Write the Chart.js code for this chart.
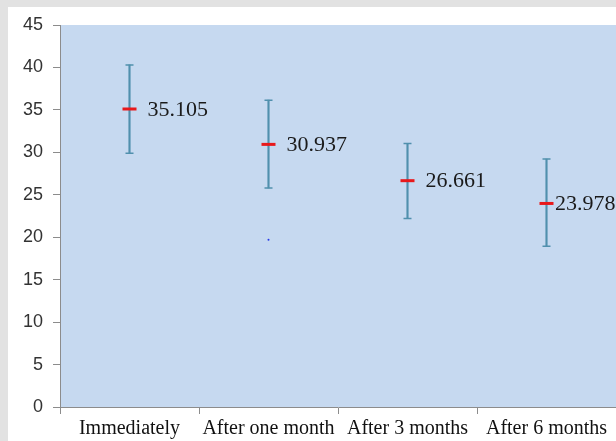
<!DOCTYPE html>
<html lang="en">
<head>
    <meta charset="UTF-8" />
    <title>Mean values over time</title>
    <style>
        body { margin: 0; background: #ffffff; }
        canvas { display: block; }
    </style>
</head>
<body>

    <canvas id="chart" width="616" height="441"></canvas>

<script src="https://cdn.jsdelivr.net/npm/chart.js@4/dist/chart.umd.min.js"></script>
<script>
    // data
    const labels = ['Immediately', 'After one month', 'After 3 months', 'After 6 months'];
    const means = [35.105, 30.937, 26.661, 23.978];
    const highs = [40.3, 36.15, 31.05, 29.2];
    const lows = [29.9, 25.8, 22.2, 18.95];
    const strayDot = [null, 19.7, null, null];
    const yTicks = [0, 5, 10, 15, 20, 25, 30, 35, 40, 45];

    const barBlue = '#5090ad';
    const axisGray = '#8c8c8c';

    // gray frame at top/left, blue plot area
    const backdrop = {
        id: 'backdrop',
        beforeDraw(chart) {
            const ctx = chart.ctx;
            const a = chart.chartArea;
            ctx.save();
            ctx.fillStyle = '#e2e2e2';
            ctx.fillRect(0, 0, chart.width, chart.height);
            ctx.fillStyle = '#ffffff';
            ctx.fillRect(8, 7, chart.width - 8, chart.height - 7);
            ctx.fillStyle = '#c6d9f0';
            ctx.fillRect(a.left, a.top, a.right - a.left, a.bottom - a.top);
            ctx.restore();
        }
    };

    // value text next to each mean marker
    const meanLabels = {
        id: 'meanLabels',
        afterDatasetsDraw(chart) {
            const ctx = chart.ctx;
            const meta = chart.getDatasetMeta(0);
            ctx.save();
            ctx.font = '22px "Liberation Serif"';
            ctx.fillStyle = '#1a1a1a';
            ctx.textBaseline = 'middle';
            meta.data.forEach((pt, i) => {
                const x = Math.min(pt.x + 18, chart.chartArea.right - 61);
                ctx.fillText(means[i].toFixed(3), x, pt.y + 1);
            });
            ctx.restore();
        }
    };

    new Chart(document.getElementById('chart'), {
        data: {
            labels: labels,
            datasets: [
                {
                    type: 'line',
                    data: means,
                    showLine: false,
                    pointStyle: 'line',
                    pointRadius: 7,
                    pointBorderWidth: 3,
                    pointBorderColor: '#e8191b',
                    order: 0
                },
                {
                    type: 'line',
                    data: highs,
                    showLine: false,
                    pointStyle: 'line',
                    pointRadius: 4,
                    pointBorderWidth: 1.5,
                    pointBorderColor: barBlue,
                    order: 1
                },
                {
                    type: 'line',
                    data: lows,
                    showLine: false,
                    pointStyle: 'line',
                    pointRadius: 4,
                    pointBorderWidth: 1.5,
                    pointBorderColor: barBlue,
                    order: 1
                },
                {
                    type: 'line',
                    data: strayDot,
                    showLine: false,
                    pointStyle: 'circle',
                    pointRadius: 1,
                    pointBorderWidth: 0,
                    pointBackgroundColor: '#2638e8',
                    order: 1
                },
                {
                    type: 'bar',
                    data: lows.map((l, i) => [l, highs[i]]),
                    backgroundColor: barBlue,
                    barThickness: 1.5,
                    order: 2
                }
            ]
        },
        options: {
            responsive: false,
            animation: false,
            layout: {
                autoPadding: false,
                padding: { top: 25, right: 0, bottom: 0, left: 0 }
            },
            plugins: {
                legend: { display: false },
                tooltip: { enabled: false }
            },
            scales: {
                x: {
                    type: 'category',
                    offset: true,
                    afterFit(scale) {
                        scale.height = 34;
                        scale.paddingLeft = 0;
                        scale.paddingRight = 0;
                    },
                    grid: {
                        offset: true,
                        drawOnChartArea: false,
                        drawTicks: true,
                        tickLength: 7,
                        color: axisGray
                    },
                    border: { display: true, color: axisGray },
                    ticks: {
                        padding: 3,
                        maxRotation: 0,
                        autoSkip: false,
                        color: '#111111',
                        font: { family: 'Liberation Serif', size: 20 }
                    }
                },
                y: {
                    min: 0,
                    max: 45,
                    afterFit(scale) {
                        scale.width = 60;
                        scale.paddingTop = 0;
                        scale.paddingBottom = 0;
                    },
                    afterBuildTicks(scale) { scale.ticks = yTicks.map(v => ({ value: v })); },
                    grid: {
                        drawOnChartArea: false,
                        drawTicks: true,
                        tickLength: 7,
                        color: axisGray
                    },
                    border: { display: true, color: axisGray },
                    ticks: {
                        padding: 10,
                        color: '#333333',
                        font: { family: 'Liberation Sans', size: 18 }
                    }
                }
            }
        },
        plugins: [backdrop, meanLabels]
    });
</script>
</body>
</html>
